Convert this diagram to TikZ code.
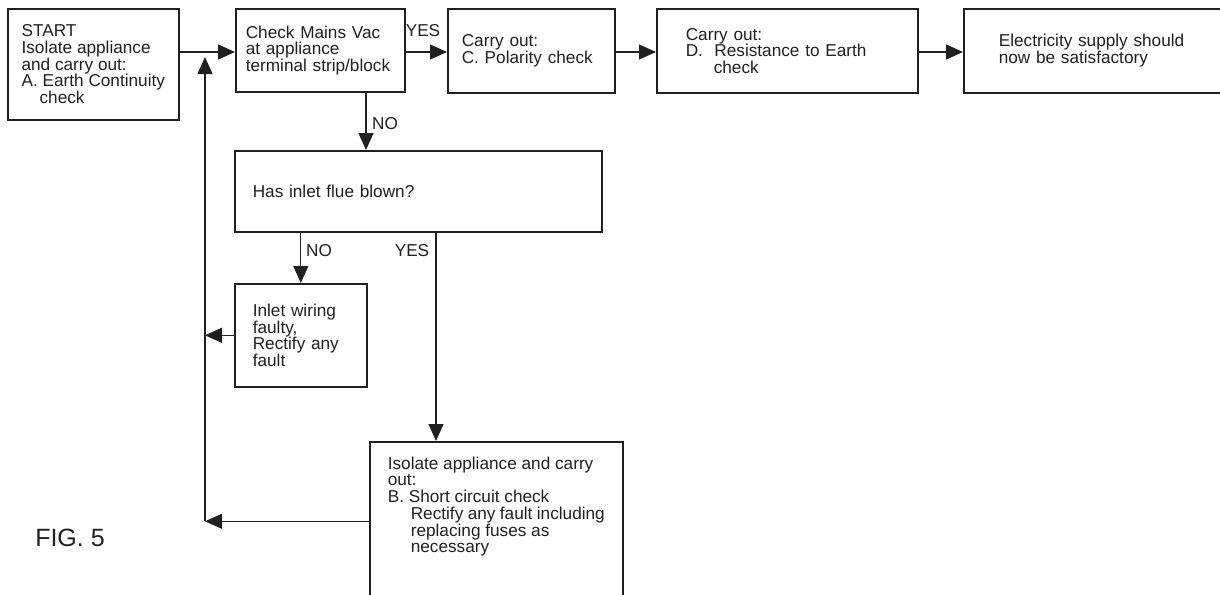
\documentclass[tikz,border=0pt]{standalone}
\usepackage{fontspec}
\setmainfont{Liberation Sans}
\usetikzlibrary{arrows.meta}
\definecolor{ink}{HTML}{231F20}
\newcommand{\boxfont}{\fontsize{17.2}{16.7}\selectfont}
\tikzset{
  flowbox/.style={draw=ink, line width=1.6pt, anchor=north west, align=left,
    inner ysep=0pt, font=\boxfont, text=ink},
  flow/.style={draw=ink, line width=1.1pt, -{Triangle[length=17pt,width=15pt]}},
  lbl/.style={font=\boxfont, text=ink, inner sep=0pt}
}

\begin{document}
\begin{tikzpicture}[x=1pt,y=-1pt]
\useasboundingbox (0,0) rectangle (1220,594);
% top row
\node[flowbox, minimum width=171pt, minimum height=111pt] (start) at (7,8)
  {START\\Isolate appliance\\and carry out:\\A. Earth Continuity\\\hspace*{18pt}check};
\node[flowbox, minimum width=169pt, minimum height=83pt, text width=149pt, inner xsep=10pt] (check) at (235,8)
  {Check Mains Vac\\at appliance\\terminal strip/block};
\node[flowbox, minimum width=167pt, minimum height=84pt, text width=139pt, inner xsep=14pt] (polar) at (447,8)
  {Carry out:\\C. Polarity check};
\node[flowbox, minimum width=261pt, minimum height=84pt, text width=203pt, inner xsep=29pt] (earth) at (656,8)
  {Carry out:\\D.\ \ Resistance to Earth\\\hspace*{28pt}check};
\node[flowbox, minimum width=270pt, minimum height=84pt, text width=200pt, inner xsep=35pt] (supply) at (963,8)
  {Electricity supply should\\now be satisfactory};
% lower part
\node[flowbox, minimum width=367pt, minimum height=81pt, text width=331pt, inner xsep=18pt] (inlet) at (234,150)
  {Has inlet flue blown?};
\node[flowbox, minimum width=132pt, minimum height=103pt, text width=96pt, inner xsep=18pt] (fault) at (234,283)
  {Inlet wiring\\faulty,\\Rectify any\\fault};
\node[flowbox, inner xsep=18pt, inner ysep=15pt] (short) at (369,441)
  {\parbox[c][129pt][t]{217pt}{\raggedright Isolate appliance and carry\\out:\\B. Short circuit check\\
   \hspace*{23pt}Rectify any fault including\\\hspace*{23pt}replacing fuses as\\\hspace*{23pt}necessary}};
% labels
\node[lbl] (yes1) at (423,31) {YES};
\node[lbl] (no1) at (385,124) {NO};
\node[lbl] (no2) at (319,251) {NO};
\node[lbl] (yes2) at (412,251) {YES};
\node[lbl, font=\fontsize{25}{25}\selectfont] (fig) at (70,538) {FIG. 5};
% connectors
\coordinate (mainline) at (0,52);
\coordinate (rail) at (205,57);
\coordinate (nodrop) at (366,0);
\coordinate (yesdrop) at (436,0);
\draw[flow] (start.east |- mainline) -- (check.west |- mainline);
\draw[flow] (check.east |- mainline) -- (polar.west |- mainline);
\draw[flow] (polar.east |- mainline) -- (earth.west |- mainline);
\draw[flow] (earth.east |- mainline) -- (supply.west |- mainline);
\draw[flow] (check.south -| nodrop) -- (inlet.north -| nodrop);
\draw[flow] (inlet.south -| fault.north) -- (fault.north);
\draw[flow] (inlet.south -| yesdrop) -- (short.north -| yesdrop);
\draw[flow] (fault.west) -- (fault.west -| rail);
\draw[flow] (short.west) -- (short.west -| rail);
\draw[flow] (short.west -| rail) -- (rail);
\end{tikzpicture}
\end{document}
